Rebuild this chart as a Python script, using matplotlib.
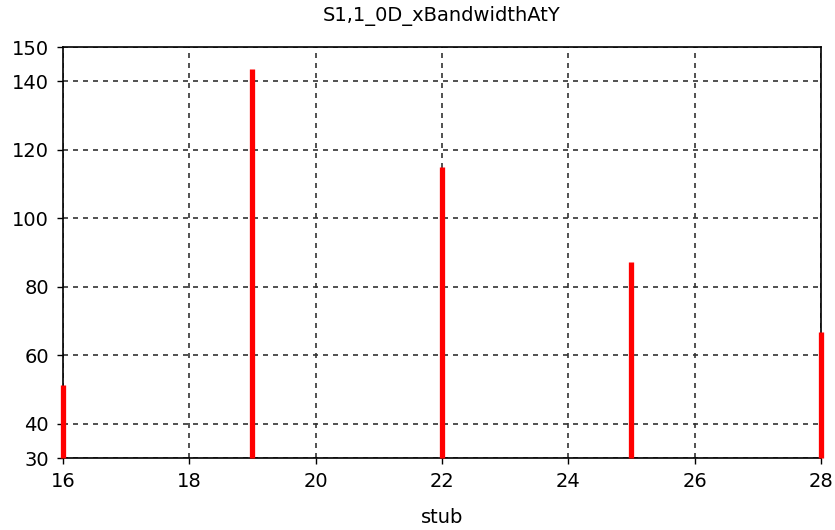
import matplotlib
matplotlib.use("Agg")
import matplotlib.pyplot as plt

# Data.
stub = [16, 19, 22, 25, 28]
bandwidth = [51.3, 143.5, 114.9, 87.1, 66.9]
y_base = 30
y_ticks = [30, 40, 60, 80, 100, 120, 140, 150]
x_ticks = [16, 18, 20, 22, 24, 26, 28]

fig = plt.figure(figsize=(8.35, 5.3), dpi=100)
ax = fig.add_axes([0.0754, 0.1358, 0.9078, 0.7755])

ax.vlines(stub, y_base, bandwidth, colors='#ff0000', linewidth=3.8,
          zorder=3, clip_on=False)

ax.set_xlim(16, 28)
ax.set_ylim(30, 150)
ax.set_xticks(x_ticks)
ax.set_yticks(y_ticks)
ax.grid(True, color='#333333', linestyle=(0, (3, 3)), linewidth=1.2)
ax.tick_params(labelsize=14, length=4, width=1, color='black')
ax.tick_params(axis='y', pad=6)
ax.tick_params(axis='x', pad=6)
for s in ax.spines.values():
    s.set_linewidth(1.2)

ax.set_title('S1,1_0D_xBandwidthAtY', fontsize=14, pad=19)
ax.set_xlabel('stub', fontsize=14, labelpad=12)

fig.savefig('out.png', dpi=100)
